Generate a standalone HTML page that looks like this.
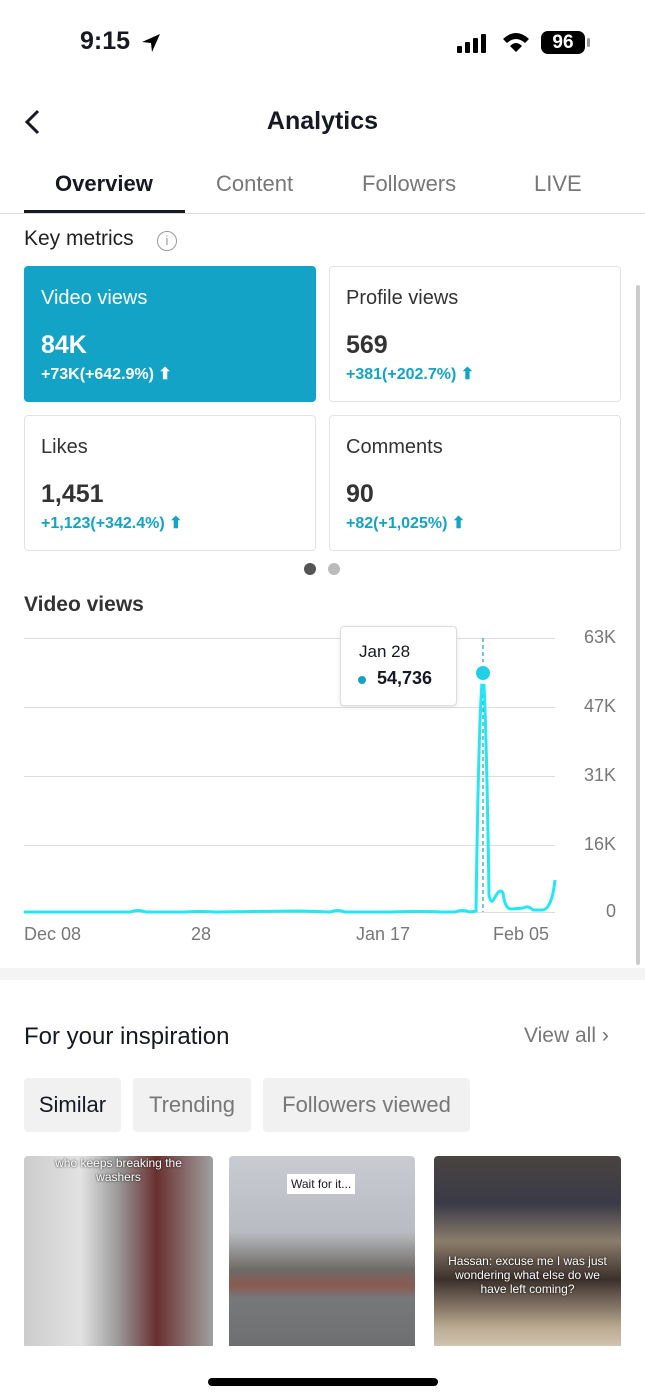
<!DOCTYPE html>
<html><head><meta charset="utf-8"><style>
*{margin:0;padding:0;box-sizing:border-box}
body{width:645px;height:1398px;background:#fff;font-family:"Liberation Sans",sans-serif;position:relative;overflow:hidden;color:#161823}
.a{position:absolute}
.card{position:absolute;border:1px solid #e3e3e4;border-radius:4px;width:292px;height:136px}
.card .t{position:absolute;left:16px;top:20px;font-size:20px;color:#333}
.card .v{position:absolute;left:16px;top:64px;font-size:25px;font-weight:bold;color:#333}
.card .d{position:absolute;left:16px;top:97px;font-size:16px;font-weight:bold;color:#12a3c6}
.yl{position:absolute;left:570px;width:46px;text-align:right;font-size:18px;color:#777}
.xl{position:absolute;top:924px;font-size:18px;color:#777}
.pill{position:absolute;top:1078px;height:54px;border-radius:4px;background:#f1f1f2;font-size:22px;color:#777;line-height:54px;text-align:center}
</style></head><body>
<div class="a" style="left:80px;top:27px;font-size:25px;font-weight:bold">9:15</div>
<svg class="a" style="left:140px;top:32px" width="22" height="22"><path d="M2 10 L20 2 L12 20 L11 11 Z" fill="#000"/></svg>
<svg class="a" style="left:455px;top:32px" width="36" height="22"><rect x="2" y="14" width="5" height="7" rx="1"/><rect x="10" y="10" width="5" height="11" rx="1"/><rect x="18" y="6" width="5" height="15" rx="1"/><rect x="26" y="2" width="5" height="19" rx="1"/></svg>
<svg class="a" style="left:501px;top:30px" width="30" height="24"><path d="M2 9 Q15 -3 28 9 L24 13 Q15 5 6 13Z M9 16 Q15 10 21 16 L15 22Z"/></svg>
<div class="a" style="left:541px;top:31px;width:44px;height:23px;background:#000;border-radius:7px;color:#fff;font-weight:bold;font-size:19px;text-align:center;line-height:23px">96</div>
<div class="a" style="left:587px;top:38px;width:3px;height:9px;background:#999;border-radius:2px"></div>
<svg class="a" style="left:22px;top:108px" width="22" height="28"><path d="M16 3 L5 14 L16 25" stroke="#161823" stroke-width="3" fill="none"/></svg>
<div class="a" style="left:0;width:645px;top:107px;text-align:center;font-size:25px;font-weight:bold">Analytics</div>
<div class="a" style="left:55px;top:171px;font-size:22px;font-weight:bold;color:#161823">Overview</div>
<div class="a" style="left:216px;top:171px;font-size:22px;color:#777">Content</div>
<div class="a" style="left:362px;top:171px;font-size:22px;color:#777">Followers</div>
<div class="a" style="left:534px;top:171px;font-size:22px;color:#777">LIVE</div>
<div class="a" style="left:24px;top:210px;width:161px;height:3px;background:#161823"></div>
<div class="a" style="left:0;top:213px;width:645px;height:1px;background:#ddd"></div>
<div class="a" style="left:636px;top:285px;width:4px;height:680px;background:#ccc;border-radius:2px"></div>
<div class="a" style="left:24px;top:227px;font-size:21px;color:#222">Key metrics</div>
<div class="a" style="left:157px;top:231px;width:20px;height:20px;border:1.5px solid #999;border-radius:50%;color:#999;font-size:13px;text-align:center;line-height:17px">i</div>
<div class="card" style="left:24px;top:266px;background:#12a3c6;border-color:#12a3c6"><div class="t" style="color:#fff">Video views</div><div class="v" style="color:#fff">84K</div><div class="d" style="color:#fff">+73K(+642.9%) ⬆</div></div>
<div class="card" style="left:329px;top:266px"><div class="t">Profile views</div><div class="v">569</div><div class="d">+381(+202.7%) ⬆</div></div>
<div class="card" style="left:24px;top:415px"><div class="t">Likes</div><div class="v">1,451</div><div class="d">+1,123(+342.4%) ⬆</div></div>
<div class="card" style="left:329px;top:415px"><div class="t">Comments</div><div class="v">90</div><div class="d">+82(+1,025%) ⬆</div></div>
<div class="a" style="left:304px;top:563px;width:12px;height:12px;border-radius:50%;background:#555"></div>
<div class="a" style="left:328px;top:563px;width:12px;height:12px;border-radius:50%;background:#bbb"></div>
<div class="a" style="left:24px;top:593px;font-size:21px;font-weight:bold;color:#333">Video views</div>
<svg class="a" style="left:0;top:0" width="645" height="960">
<g stroke="#ddd" stroke-width="1"><line x1="24" x2="555" y1="638.5" y2="638.5"/><line x1="24" x2="555" y1="707.5" y2="707.5"/><line x1="24" x2="555" y1="776.5" y2="776.5"/><line x1="24" x2="555" y1="845.5" y2="845.5"/><line x1="24" x2="555" y1="912.5" y2="912.5"/></g>
<line x1="483" x2="483" y1="638" y2="912" stroke="#12a3c6" stroke-width="1.2" stroke-dasharray="4,3"/>
<path d="M24 912 L130 912 Q138 909 146 912 L185 912 Q200 911 215 912 L300 911 L330 912 Q338 909 345 912 L390 912 Q425 911 440 912 L455 912 Q462 909 470 912 L476 911 Q479 700 483 672 Q486 700 489 895 Q491 905 494 899 Q500 887 503 893 Q505 910 512 909 L523 908 Q528 905 533 910 L543 910 Q552 908 555 880" fill="none" stroke="#25e6f5" stroke-width="3"/>
<circle cx="483" cy="673" r="11" fill="#fff" opacity=".9"/><circle cx="483" cy="673" r="7" fill="#20d0e6"/>
</svg>
<div class="a" style="left:340px;top:626px;width:117px;height:80px;background:#fff;border:1px solid #ddd;border-radius:4px;box-shadow:0 1px 4px rgba(0,0,0,.1)"></div>
<div class="a" style="left:359px;top:642px;font-size:17px;color:#161823">Jan 28</div>
<div class="a" style="left:358px;top:676px;width:8px;height:8px;border-radius:50%;background:#12a3c6"></div>
<div class="a" style="left:377px;top:668px;font-size:18px;font-weight:bold">54,736</div>
<div class="yl" style="top:627px">63K</div><div class="yl" style="top:696px">47K</div><div class="yl" style="top:765px">31K</div><div class="yl" style="top:834px">16K</div><div class="yl" style="top:901px">0</div>
<div class="xl" style="left:24px">Dec 08</div><div class="xl" style="left:191px">28</div><div class="xl" style="left:356px">Jan 17</div><div class="xl" style="left:493px">Feb 05</div>
<div class="a" style="left:0;top:968px;width:645px;height:12px;background:#f4f4f5"></div>
<div class="a" style="left:24px;top:1023px;font-size:24px;color:#161823">For your inspiration</div>
<div class="a" style="left:524px;top:1024px;font-size:21px;color:#777">View all ›</div>
<div class="pill" style="left:24px;width:97px;color:#161823">Similar</div>
<div class="pill" style="left:133px;width:118px">Trending</div>
<div class="pill" style="left:263px;width:207px">Followers viewed</div>
<div class="a" style="left:24px;top:1156px;width:189px;height:190px;border-radius:4px 4px 0 0;background:linear-gradient(90deg,#ccc 0%,#e2e2e2 30%,#999 50%,#6a3030 70%,#a0a0a0 100%)"></div>
<div class="a" style="left:24px;top:1156px;width:189px;text-align:center;color:#fff;font-size:12px;text-shadow:0 0 2px #000">who keeps breaking the<br>washers</div>
<div class="a" style="left:229px;top:1156px;width:186px;height:190px;border-radius:4px 4px 0 0;background:linear-gradient(180deg,#c8ccd2 0%,#b8bcc2 40%,#6f6a66 60%,#8a5a50 68%,#77787a 75%,#6e6f70 100%)"></div>
<div class="a" style="left:287px;top:1174px;background:#fff;font-size:12px;padding:3px 4px">Wait for it...</div>
<div class="a" style="left:434px;top:1156px;width:187px;height:190px;border-radius:4px 4px 0 0;background:linear-gradient(180deg,#4a4440 0%,#3a3a48 25%,#8a7d6a 45%,#3c302c 65%,#b9a990 90%,#d0c4b0 100%)"></div>
<div class="a" style="left:434px;top:1254px;width:187px;text-align:center;color:#fff;font-size:12px;text-shadow:0 0 2px #000">Hassan: excuse me I was just<br>wondering what else do we<br>have left coming?</div>
<div class="a" style="left:208px;top:1378px;width:230px;height:8px;border-radius:4px;background:#000"></div>
</body></html>
